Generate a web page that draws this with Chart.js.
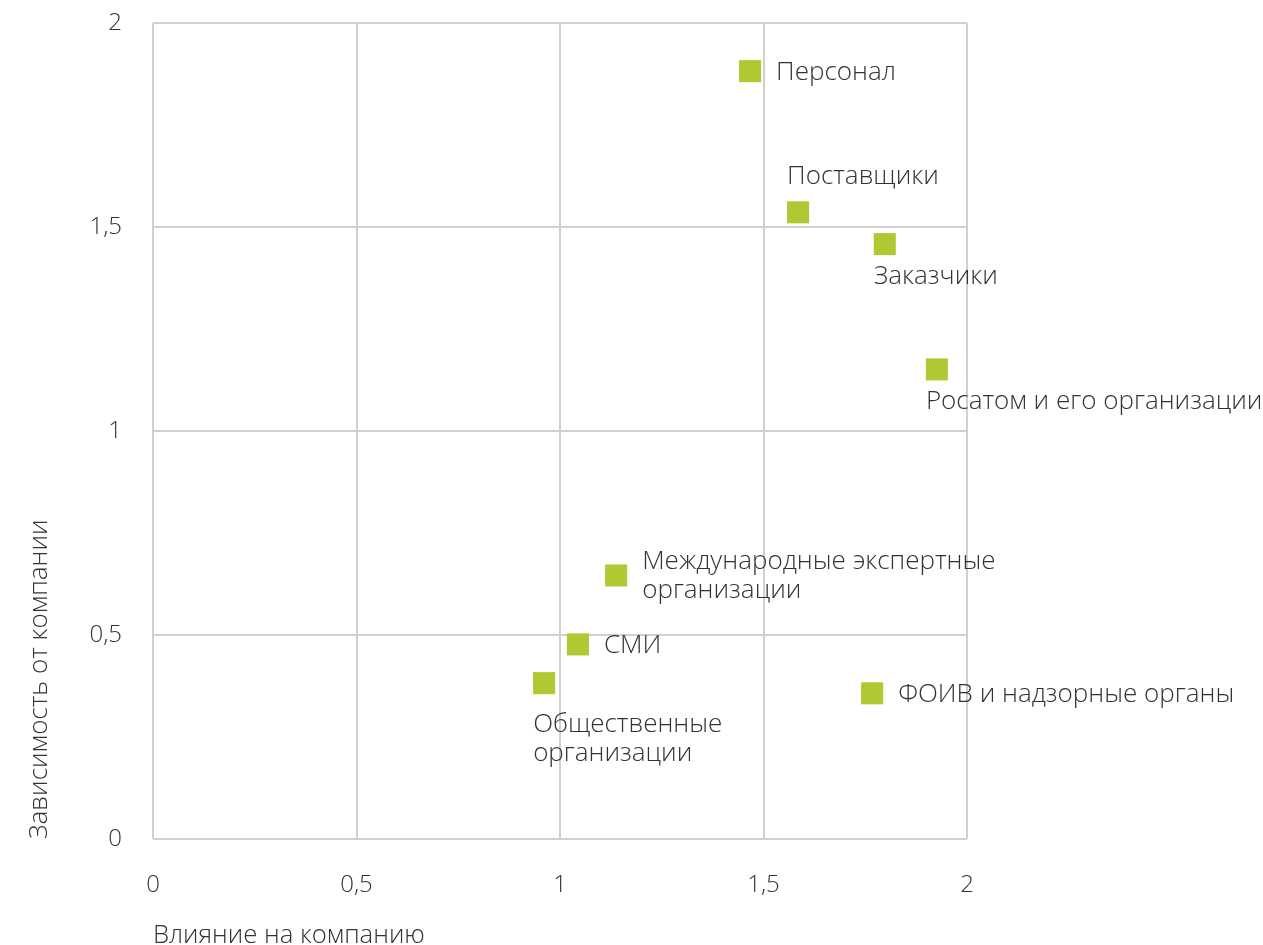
<!DOCTYPE html>
<html lang="ru">
<head>
    <meta charset="UTF-8">
    <title>Карта заинтересованных сторон</title>
    <script src="https://cdn.jsdelivr.net/npm/chart.js"></script>
    <style>
        body {
            margin: 0;
            padding: 0;
            background: #fff;
        }
        .wrap {
            width: 1263px;
            height: 945px;
        }
    </style>
</head>
<body>
    <div class="wrap"><canvas id="chart"></canvas></div>

    <script>
        // data
        const names = ['Персонал', 'Поставщики', 'Заказчики', 'Росатом и его организации',
            'Международные экспертные организации', 'СМИ', 'Общественные организации',
            'ФОИВ и надзорные органы'];
        const influence = [1.467, 1.585, 1.798, 1.926, 1.138, 1.044, 0.961, 1.767];
        const dependence = [1.882, 1.536, 1.458, 1.151, 0.646, 0.477, 0.382, 0.357];
        const tickValues = [0, 0.5, 1, 1.5, 2];

        const textColor = '#333333';
        const fontFamily = '"Open Sans", sans-serif';

        // where each label sits around its point
        const placement = {
            'Персонал': { mode: 'right', lines: ['Персонал'] },
            'Поставщики': { mode: 'above', lines: ['Поставщики'] },
            'Заказчики': { mode: 'below', lines: ['Заказчики'] },
            'Росатом и его организации': { mode: 'below', lines: ['Росатом и его организации'] },
            'Международные экспертные организации': { mode: 'right', lines: ['Международные экспертные', 'организации'] },
            'СМИ': { mode: 'right', lines: ['СМИ'] },
            'Общественные организации': { mode: 'below', lines: ['Общественные', 'организации'] },
            'ФОИВ и надзорные органы': { mode: 'right', lines: ['ФОИВ и надзорные органы'] }
        };

        const pointLabels = {
            id: 'pointLabels',
            afterDatasetsDraw(chart) {
                const ctx = chart.ctx;
                const meta = chart.getDatasetMeta(0);
                ctx.save();
                ctx.font = '300 26px ' + fontFamily;
                ctx.fillStyle = textColor;
                ctx.textAlign = 'left';
                ctx.textBaseline = 'middle';
                const lh = 29;
                meta.data.forEach((pt, i) => {
                    const p = placement[names[i]];
                    const n = p.lines.length;
                    let x, y0;
                    if (p.mode === 'right') {
                        x = pt.x + 26;
                        y0 = pt.y - (n - 1) * lh / 2 + 1;
                    } else if (p.mode === 'above') {
                        x = pt.x - 11;
                        y0 = pt.y - 36;
                    } else {
                        x = pt.x - 11;
                        y0 = pt.y + 32 + (n > 1 ? 9 : 0);
                    }
                    p.lines.forEach((ln, k) => ctx.fillText(ln, x, y0 + k * lh));
                });
                ctx.restore();
            }
        };

        const points = influence.map((v, i) => ({ x: v, y: dependence[i] }));

        new Chart(document.getElementById('chart'), {
            type: 'scatter',
            data: {
                datasets: [{
                    label: 'Стороны',
                    data: points,
                    pointStyle: 'rect',
                    radius: 15.6,
                    hoverRadius: 15.6,
                    backgroundColor: '#b0c832',
                    borderWidth: 0
                }]
            },
            options: {
                responsive: true,
                maintainAspectRatio: false,
                animation: false,
                layout: { padding: { left: 0, right: 296, top: 23, bottom: 0 } },
                plugins: {
                    legend: { display: false },
                    tooltip: { enabled: false }
                },
                scales: {
                    x: {
                        min: 0,
                        max: 2,
                        afterBuildTicks: s => { s.ticks = tickValues.map(v => ({ value: v })); },
                        afterFit: s => { s.height = 106; s.paddingLeft = 0; s.paddingRight = 0; },
                        border: { display: false },
                        grid: { color: '#d0d0d0', lineWidth: 2, drawTicks: false },
                        ticks: {
                            padding: 32,
                            color: textColor,
                            font: { family: fontFamily, size: 24, weight: 300 },
                            callback: v => String(v).replace('.', ',')
                        },
                        title: {
                            display: true,
                            text: 'Влияние на компанию',
                            align: 'start',
                            color: textColor,
                            font: { family: fontFamily, size: 25.7, weight: 300 },
                            padding: { top: 0, bottom: -6 }
                        }
                    },
                    y: {
                        min: 0,
                        max: 2,
                        afterBuildTicks: s => { s.ticks = tickValues.map(v => ({ value: v })); },
                        afterFit: s => { s.width = 153; s.paddingTop = 0; s.paddingBottom = 0; },
                        border: { display: false },
                        grid: { color: '#d0d0d0', lineWidth: 2, drawTicks: false },
                        ticks: {
                            padding: 31,
                            color: textColor,
                            font: { family: fontFamily, size: 24, weight: 300 },
                            callback: v => String(v).replace('.', ',')
                        },
                        title: {
                            display: true,
                            text: 'Зависимость от компании',
                            align: 'start',
                            color: textColor,
                            font: { family: fontFamily, size: 26, weight: 300 },
                            padding: { top: 24, bottom: 0 }
                        }
                    }
                }
            },
            plugins: [pointLabels]
        });
    </script>
</body>
</html>
